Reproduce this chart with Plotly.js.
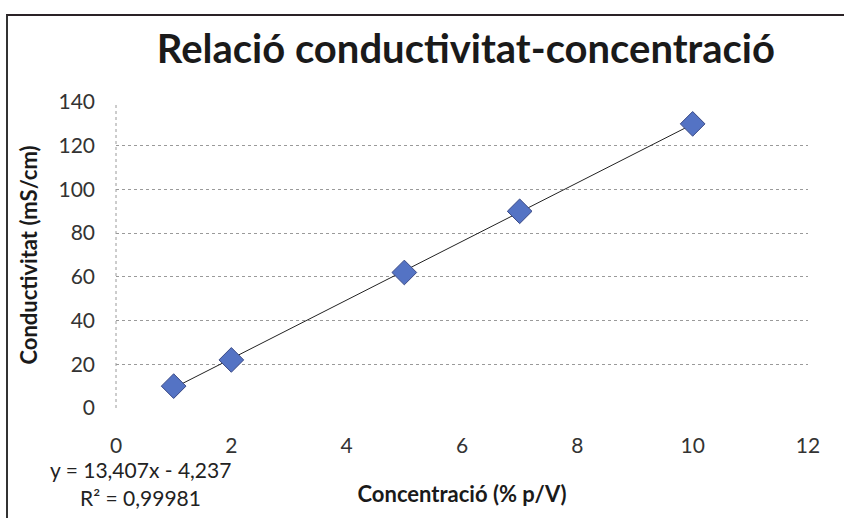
<!DOCTYPE html>
<html>
<head>
<meta charset="utf-8">
<script src="https://cdn.plot.ly/plotly-3.0.1.min.js"></script>
<style>
html,body{margin:0;padding:0;background:#fff;}
#wrap{position:relative;width:844px;height:518px;}
#chart{width:844px;height:518px;}
#frame{position:absolute;left:6px;top:14px;right:0;bottom:0;border-top:2px solid #2a2226;border-left:2px solid #333;pointer-events:none;}
</style>
</head>
<body>
<div id="wrap"><div id="chart"></div><div id="frame"></div></div>
<script>
const concentracio = [1, 2, 5, 7, 10];
const conductivitat = [10, 22, 62, 90, 130];
const xTicks = [0, 2, 4, 6, 8, 10, 12];
const yTicks = [0, 20, 40, 60, 80, 100, 120, 140];
const equationText = 'y = 13,407x - 4,237';
const r2Text = 'R² = 0,99981';

// least-squares trendline from the data
const n = concentracio.length;
const mx = concentracio.reduce((a,b)=>a+b,0)/n;
const my = conductivitat.reduce((a,b)=>a+b,0)/n;
let sxy=0, sxx=0;
for (let i=0;i<n;i++){ sxy+=(concentracio[i]-mx)*(conductivitat[i]-my); sxx+=(concentracio[i]-mx)**2; }
const slope = sxy/sxx, intercept = my - slope*mx;
const tx = [Math.min(...concentracio), Math.max(...concentracio)];
const ty = tx.map(x=>slope*x+intercept);

const font = 'Lato, "Open Sans", sans-serif';
const data = [
  {x: tx, y: ty, mode:'lines', type:'scatter', line:{color:'#222', width:1}, hoverinfo:'skip', showlegend:false},
  {x: concentracio, y: conductivitat, mode:'markers', type:'scatter',
   marker:{symbol:'diamond', size:19, color:'#5473c4', line:{color:'#3b4a86', width:1}}, showlegend:false}
];
const layout = {
  width:844, height:518,
  margin:{l:116, r:36, t:102, b:110},
  paper_bgcolor:'#fff', plot_bgcolor:'#fff',
  font:{family:font, color:'#222'},
  title:{text:'<b>Relació conductivitat-concentració</b>', font:{family:font, size:40, color:'#1a1a1a'}, x:0.552, xanchor:'center', y:0.905, yanchor:'middle'},
  xaxis:{range:[0,12], tickvals:xTicks, ticktext:xTicks.map(String), showgrid:false, zeroline:false, showline:false,
    ticks:'', ticklabelstandoff:23, tickfont:{size:21, color:'#333'},
    title:{text:'<b>Concentració (% p/V)</b>', font:{size:22, color:'#1a1a1a'}, standoff:30}},
  yaxis:{range:[0,140], tickvals:yTicks, ticktext:yTicks.map(String), showgrid:true, gridcolor:'#9a9a9a', griddash:'dot', gridwidth:1,
    zeroline:false, showline:false, ticks:'', ticklabelstandoff:20, tickfont:{size:21, color:'#333'},
    title:{text:'<b>Conductivitat (mS/cm)</b>', font:{size:22, color:'#1a1a1a'}, standoff:14}},
  shapes:[{type:'line', xref:'paper', yref:'paper', x0:0, x1:0, y0:0, y1:1, line:{color:'#9a9a9a', width:1, dash:'dot'}}],
  annotations:[
    {text:equationText, xref:'paper', yref:'paper', x:0.035, y:-0.2, xanchor:'center', yanchor:'middle', showarrow:false, font:{size:21, color:'#222'}},
    {text:r2Text, xref:'paper', yref:'paper', x:0.035, y:-0.294, xanchor:'center', yanchor:'middle', showarrow:false, font:{size:21, color:'#222'}}
  ]
};
Plotly.newPlot('chart', data, layout, {displayModeBar:false, staticPlot:true});
</script>
</body>
</html>
